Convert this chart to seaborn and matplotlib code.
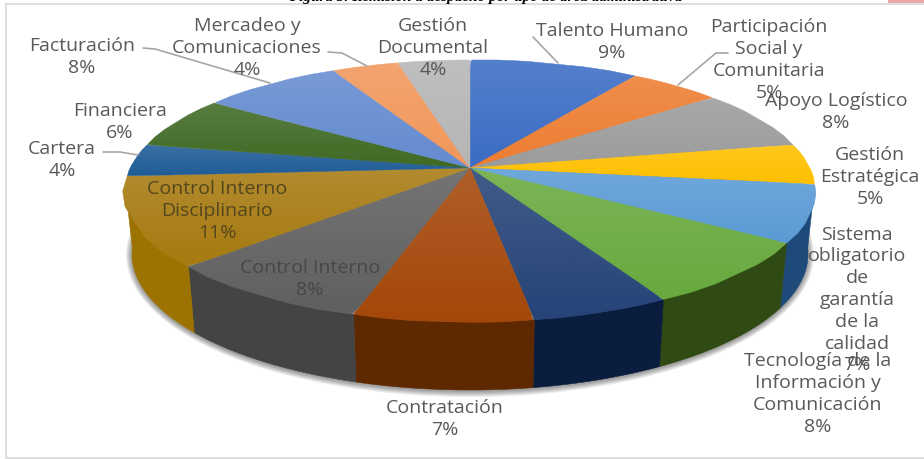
import numpy as np
import matplotlib
matplotlib.use("Agg")
import matplotlib.pyplot as plt
from matplotlib.patches import Ellipse, PathPatch, Polygon, Rectangle
from matplotlib.path import Path
import seaborn as sns

sns.set_theme(style="white")
plt.rcParams["font.family"] = ["Open Sans", "DejaVu Sans"]

# data, clockwise from 12 o'clock
areas = ["Talento Humano", "Participación\nSocial y\nComunitaria", "Apoyo Logístico",
         "Gestión\nEstratégica", "Sistema\nobligatorio\nde\ngarantía\nde la\ncalidad",
         "Tecnología de la\nInformación y\nComunicación", "Jurídica", "Contratación",
         "Control Interno", "Control Interno\nDisciplinario", "Cartera", "Financiera",
         "Facturación", "Mercadeo y\nComunicaciones", "Gestión\nDocumental"]
percent_shown = [9, 5, 8, 5, 7, 8, 6, 7, 8, 11, 4, 6, 8, 4, 4]
# slice sizes estimated from the slice edges, they round to the printed labels
shares = [9.4, 5.1, 7.5, 5, 7, 8, 5.5, 7.1, 8.4, 11, 4, 6.5, 7.8, 3.7, 4]

top_colors = ["#3b6cc4", "#ed7d31", "#9c9c9c", "#ffc000", "#5b9bd5", "#68aa3e", "#264478", "#a4470a",
              "#606060", "#a67a10", "#1f5c96", "#3f6a24", "#648bd0", "#f1975a", "#b5b5b5"]
side_colors = ["#2a4d8a", "#a85820", "#6e6e6e", "#b38600", "#1d4a78", "#2f4a12", "#0b1d3e", "#5e2800",
               "#444444", "#9c7200", "#143f66", "#2b4718", "#46628f", "#a96a3e", "#7f7f7f"]

# label centre (pixels) for each area
label_x = [612, 769, 836, 870, 857, 818, 567, 445, 310, 217, 62, 120, 82, 247, 433]
label_y = [42, 60, 112, 177, 300, 394, 278, 419, 279, 211, 160, 122, 57, 48, 48]
label_color = ["#595959"] * 15
label_color[6] = "#30497a"
label_color[8] = "#474747"
label_color[9] = "#54461c"

# leader lines: label to slice
leaders = [([143, 155, 270], [48, 49, 83]), ([328, 342, 367], [52, 53, 66]),
           ([533, 558], [37, 63]), ([728, 716, 678], [53, 53, 85]),
           ([103, 120, 138], [152, 152, 155])]

# pie geometry in pixels
cx, cy, rx, ry = 470, 191, 345, 131
cx2, cy2, rx2, ry2 = 470, 254, 338, 136
k = 0.176  # moves the meeting point of the slices back, like a tilted disc


def project(x, y, cx, cy, rx, ry):
    d = 1 + k * y
    return cx + rx * x * np.sqrt(1 - k * k) / d, cy - ry * (y + k) / d


fig = plt.figure(figsize=(9.24, 4.59), dpi=100)
ax = fig.add_axes([0, 0, 1, 1])

wedges, _ = ax.pie(shares, startangle=90, counterclock=False, colors=sns.color_palette(top_colors))
shapes = []
for w in wedges:
    p = w.get_path().transformed(w.get_patch_transform()).interpolated(12)
    shapes.append((p, w.theta1, w.theta2))
    w.remove()

# frame of the original picture
ax.add_patch(Rectangle((5.5, 3.5), 930, 454, fc="white", ec="#dedede", lw=1.5, zorder=0))
ax.add_patch(Rectangle((888, -3), 40, 6, fc="#e9a9a9", ec="none", zorder=1))

# soft shadow under the pie
for i in range(6):
    grow = 2 * (6 - i)
    ax.add_patch(Ellipse((cx2, cy2 + 1), 2 * rx2 + grow, 2 * ry2 + grow, fc="black", ec="none",
                         alpha=0.07, zorder=1))

# side wall, only the front part
for (p, t1, t2), col in zip(shapes, side_colors):
    t = np.radians(np.linspace(t1, t2, 60))
    xa, ya = project(np.cos(t), np.sin(t), cx, cy, rx, ry)
    xb, yb = project(np.cos(t), np.sin(t), cx2, cy2, rx2, ry2)
    keep = np.sin(t) + k < 0.05
    if keep.sum() < 2:
        continue
    pts = np.r_[np.c_[xa[keep], ya[keep]], np.c_[xb[keep], yb[keep]][::-1]]
    ax.add_patch(Polygon(pts, fc=col, ec=col, lw=0.4, zorder=2))

# top surface with a faint vertical shine
shine = np.zeros((64, 1, 4))
shine[:, 0, :3] = 1
shine[:, 0, 3] = np.linspace(0.13, 0, 64)
for (p, t1, t2), col in zip(shapes, top_colors):
    xs, ys = project(p.vertices[:, 0], p.vertices[:, 1], cx, cy, rx, ry)
    patch = PathPatch(Path(np.c_[xs, ys], p.codes), fc=col, ec=col, lw=0.3, zorder=3)
    ax.add_patch(patch)
    im = ax.imshow(shine, extent=[xs.min(), xs.max(), ys.max(), ys.min()], aspect="auto", zorder=4)
    im.set_clip_path(patch)

for xl, yl in leaders:
    ax.plot(xl, yl, color="#a6a6a6", lw=1.2, zorder=5)

for name, pct, x, y, c in zip(areas, percent_shown, label_x, label_y, label_color):
    ax.text(x, y, f"{name}\n{pct}%", ha="center", va="center", color=c, fontsize=14,
            linespacing=1.27, zorder=6)

# caption cut by the top edge, as in the reference. Only the letter bottoms show there,
# so this wording is a guess, not a reading
ax.text(486, -3, "Figura 3. Remisión a despacho por tipo de área administrativa", ha="center",
        va="center", fontsize=11, style="italic", fontweight="bold", family="Liberation Serif",
        color="black", zorder=6)

ax.set_xlim(0, 924)
ax.set_ylim(459, 0)
ax.set_aspect("auto")
ax.axis("off")
fig.savefig("out.png", dpi=100)
